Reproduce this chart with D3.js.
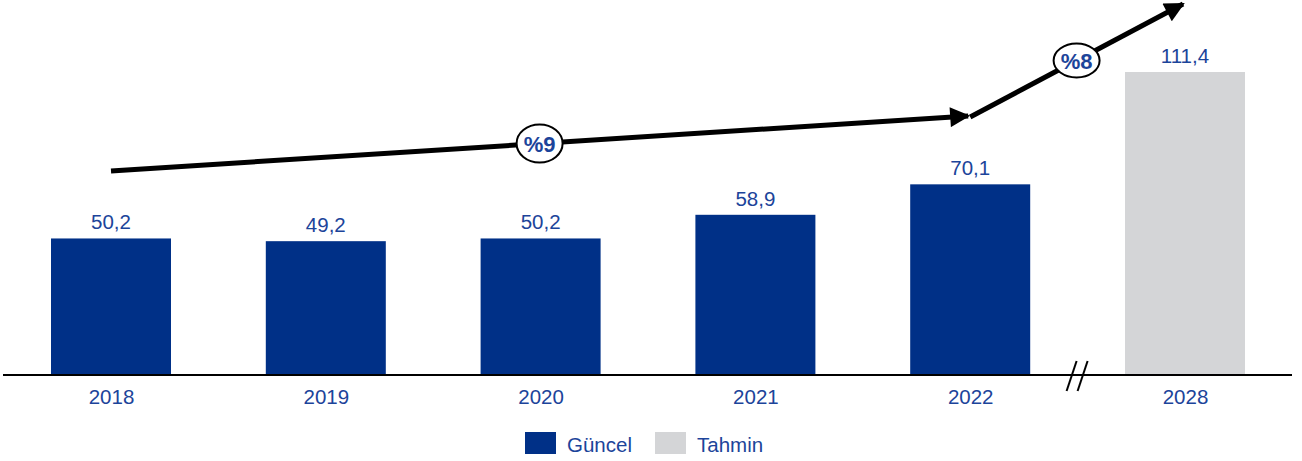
<!DOCTYPE html>
<html>
<head>
<meta charset="utf-8">
<script src="https://cdn.jsdelivr.net/npm/d3@7"></script>
<style>
  body { margin: 0; background: #fff; }
  text { font-family: "Liberation Sans", Arial, sans-serif; }
</style>
</head>
<body>
<svg width="1302" height="461"></svg>
<script>
// veriler
const years = ["2018", "2019", "2020", "2021", "2022", "2028"];
const values = [50.2, 49.2, 50.2, 58.9, 70.1, 111.4];
const kinds = ["Güncel", "Güncel", "Güncel", "Güncel", "Güncel", "Tahmin"];
const legendLabels = ["Güncel", "Tahmin"];
const growthLabels = ["%9", "%8"];

const svg = d3.select("svg");
const blue = "#003087";
const grey = "#d4d5d7";
const textBlue = "#1c449a";
const color = d3.scaleOrdinal().domain(legendLabels).range([blue, grey]);

const baseY = 375;
const x = d3.scalePoint().domain(years).range([111, 1185]);
const y = d3.scaleLinear().domain([0, 111.4]).range([baseY, 72]);
const barW = 120;
const fs = 20.5;

const data = years.map((yr, i) => ({year: yr, value: values[i], kind: kinds[i]}));

// sütunlar
svg.selectAll("rect.bar")
    .data(data)
    .join("rect")
    .attr("class", "bar")
    .attr("x", d => x(d.year) - barW / 2)
    .attr("y", d => y(d.value))
    .attr("width", barW)
    .attr("height", d => baseY - y(d.value))
    .attr("fill", d => color(d.kind));

// değer etiketleri
svg.selectAll("text.val")
    .data(data)
    .join("text")
    .attr("class", "val")
    .attr("x", d => x(d.year))
    .attr("y", d => y(d.value) - 9)
    .attr("text-anchor", "middle")
    .attr("font-size", fs)
    .attr("fill", textBlue)
    .text(d => d3.format(".1f")(d.value).replace(".", ","));

// yatay eksen
svg.append("line")
    .attr("x1", 3).attr("x2", 1292)
    .attr("y1", baseY).attr("y2", baseY)
    .attr("stroke", "black").attr("stroke-width", 2);

const xAxis = svg.append("g")
    .attr("transform", `translate(0,${baseY})`)
    .call(d3.axisBottom(x).tickSize(0).tickPadding(0));
xAxis.select(".domain").remove();
xAxis.selectAll("text")
    .attr("y", 29)
    .attr("dy", 0)
    .attr("font-size", fs)
    .attr("font-family", "Liberation Sans, Arial, sans-serif")
    .attr("fill", textBlue);

// eksen kırılma işareti
const bx = (x("2022") + x("2028")) / 2;
[-6, 5].forEach(off => {
    svg.append("line")
        .attr("x1", bx + off - 5).attr("y1", baseY + 16)
        .attr("x2", bx + off + 5).attr("y2", baseY - 14)
        .attr("stroke", "black").attr("stroke-width", 2);
});

// büyüme okları
svg.append("defs").append("marker")
    .attr("id", "head")
    .attr("viewBox", "0 0 10 10")
    .attr("refX", 9).attr("refY", 5)
    .attr("markerUnits", "userSpaceOnUse")
    .attr("markerWidth", 22).attr("markerHeight", 20)
    .attr("orient", "auto")
    .append("path")
    .attr("d", "M0,0 L10,5 L0,10 Z")
    .attr("fill", "black");

const arrows = [
    {x1: x("2018"), y1: 171, x2: x("2022") - 2, y2: 116, label: growthLabels[0], rx: 23, ry: 19},
    {x1: x("2022"), y1: 117, x2: x("2028") - 2, y2: 4, label: growthLabels[1], rx: 23, ry: 17}
];

arrows.forEach(a => {
    svg.append("line")
        .attr("x1", a.x1).attr("y1", a.y1)
        .attr("x2", a.x2).attr("y2", a.y2)
        .attr("stroke", "black").attr("stroke-width", 5)
        .attr("marker-end", "url(#head)");
    const mx = (a.x1 + a.x2) / 2, my = (a.y1 + a.y2) / 2;
    svg.append("ellipse")
        .attr("cx", mx).attr("cy", my)
        .attr("rx", a.rx).attr("ry", a.ry)
        .attr("fill", "white").attr("stroke", "black").attr("stroke-width", 2);
    svg.append("text")
        .attr("x", mx).attr("y", my + 8)
        .attr("text-anchor", "middle")
        .attr("font-size", 22).attr("font-weight", "bold")
        .attr("fill", textBlue)
        .text(a.label);
});

// lejant
const legend = svg.append("g");
const legendX = [525, 655];
legendLabels.forEach((lbl, i) => {
    legend.append("rect")
        .attr("x", legendX[i]).attr("y", 432)
        .attr("width", 31).attr("height", 22)
        .attr("fill", color(lbl));
    legend.append("text")
        .attr("x", legendX[i] + 42).attr("y", 452)
        .attr("font-size", fs)
        .attr("fill", textBlue)
        .text(lbl);
});
</script>
</body>
</html>
